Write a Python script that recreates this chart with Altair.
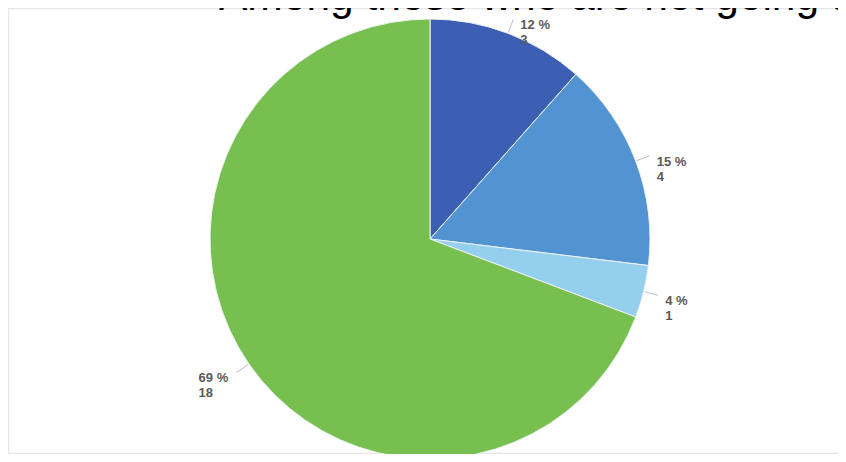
import altair as alt
import pandas as pd

# ---- data ----
slice_order = [1, 2, 3, 4]
counts = [3, 4, 1, 18]
pct_labels = ["12 %", "15 %", "4 %", "69 %"]
slice_colors = ["#3C5EB3", "#5294D1", "#94D0EE", "#77BF4F"]
title_text = "Among those who are not going to"

df = pd.DataFrame({
    "order": slice_order,
    "count": counts,
    "pct": pct_labels,
})

CX, CY, R = 422, 231, 220

base = alt.Chart(df)

pie = base.mark_arc(stroke="#eef3f8", strokeWidth=1, radius=R).encode(
    theta=alt.Theta("count:Q", stack=True),
    order=alt.Order("order:Q"),
    color=alt.Color("order:N", scale=alt.Scale(domain=slice_order, range=slice_colors), legend=None),
    x=alt.value(CX),
    y=alt.value(CY),
)

geo = base.transform_joinaggregate(
    total="sum(count)"
).transform_window(
    cum="sum(count)", sort=[alt.SortField("order")], frame=[None, 0]
).transform_calculate(
    mid=f"(datum.cum - datum.count/2) / datum.total * 2 * PI",
).transform_calculate(
    sx=f"{CX} + {R + 1} * sin(datum.mid)",
    sy=f"{CY} - {R + 1} * cos(datum.mid)",
    ex=f"{CX} + {R + 15} * sin(datum.mid)",
    ey=f"{CY} - {R + 15} * cos(datum.mid)",
).transform_calculate(
    tx="sin(datum.mid) >= 0 ? datum.ex + 7 : datum.ex - 38",
    ty="datum.ey + 10",
    label="datum.pct + '\\n' + datum.count",
)

leaders = geo.mark_rule(color="#bdbdbd", strokeWidth=1).encode(
    x=alt.X("sx:Q", scale=None),
    y=alt.Y("sy:Q", scale=None),
    x2="ex:Q",
    y2="ey:Q",
)

labels = geo.mark_text(
    align="left", baseline="alphabetic", font="Liberation Sans", fontSize=13,
    fontWeight="bold", color="#5a5a5a", lineBreak="\n", lineHeight=15,
).encode(
    x=alt.X("tx:Q", scale=None),
    y=alt.Y("ty:Q", scale=None),
    text="label:N",
)

title = alt.Chart(pd.DataFrame({"t": [title_text]})).mark_text(
    align="left", baseline="alphabetic", font="Liberation Sans", fontSize=42.5, color="#000000",
).encode(text="t:N", x=alt.value(211), y=alt.value(1.5))

frame_df = pd.DataFrame({"k": [0]})
frame_left = alt.Chart(frame_df).mark_rule(color="#e6e6e6", strokeWidth=1.5).encode(
    x=alt.value(0.5), y=alt.value(0), y2=alt.value(446))
frame_top = alt.Chart(frame_df).mark_rule(color="#e6e6e6", strokeWidth=1.5).encode(
    x=alt.value(0), x2=alt.value(830), y=alt.value(0.5))
frame_bottom = alt.Chart(frame_df).mark_rule(color="#e6e6e6", strokeWidth=1.5).encode(
    x=alt.value(0), x2=alt.value(830), y=alt.value(445.5))

chart = alt.layer(
    frame_left, frame_top, frame_bottom, pie, leaders, labels, title
).properties(
    width=830, height=446, padding=0,
    autosize=alt.AutoSizeParams(type="none"),
    background="#ffffff",
).configure_view(stroke=None)

chart.save("out.html", embed_options={"renderer": "svg", "actions": False})
